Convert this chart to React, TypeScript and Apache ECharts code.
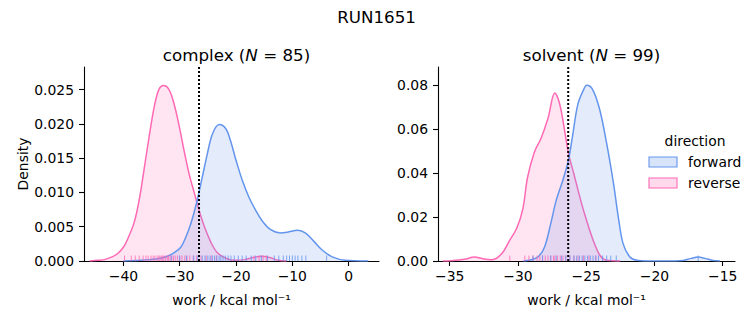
import React, { useEffect, useRef } from "react";
import * as echarts from "echarts";

// ---- data ----
const SUPTITLE = "RUN1651";
const PANEL_TITLES = ["complex ({i|N} = 85)", "solvent ({i|N} = 99)"];
const X_LABEL = "work / kcal mol\u207B\u00B9";
const Y_LABEL = "Density";
const LEGEND_TITLE = "direction";
const LEGEND_ITEMS = ["forward", "reverse"];

// complex panel
const C_X_TICKS = [-40, -30, -20, -10, 0];
const C_Y_TICKS = [0, 0.005, 0.01, 0.015, 0.02, 0.025];
const C_REV_X = [-46.0, -44.5, -43.4, -42.0, -41.0, -40.0, -39.3, -38.1, -37.2, -36.3, -35.4, -34.5, -33.7, -32.9, -31.9, -31.0, -30.1, -29.2, -28.3, -27.4, -26.6, -25.7, -24.5, -23.3, -21.5, -20.0, -18.5, -17.0, -15.5, -14.0, -12.5, -11.0];
const C_REV_Y = [0.0, 0.0001, 0.0002, 0.0006, 0.0011, 0.002, 0.0031, 0.0056, 0.0089, 0.0135, 0.0183, 0.0226, 0.0250, 0.0256, 0.0250, 0.0229, 0.0197, 0.0160, 0.0126, 0.0099, 0.0075, 0.0052, 0.0028, 0.0012, 0.0003, 0.0001, 0.0002, 0.0005, 0.0007, 0.0005, 0.0001, 0.0];
const C_FWD_X = [-40.0, -37.0, -35.3, -33.5, -32.2, -31.0, -29.8, -28.9, -28.0, -27.0, -26.0, -25.1, -24.2, -23.0, -21.8, -21.0, -20.0, -18.9, -17.7, -16.5, -15.3, -13.9, -12.2, -10.9, -9.0, -7.7, -6.2, -4.7, -2.9, -0.6, 3.5];
const C_FWD_Y = [0.0, 0.0001, 0.0002, 0.0004, 0.0007, 0.0012, 0.002, 0.0035, 0.0055, 0.0085, 0.0122, 0.0156, 0.0185, 0.0199, 0.0193, 0.0176, 0.0147, 0.0118, 0.0093, 0.0074, 0.0058, 0.0046, 0.0041, 0.0042, 0.0045, 0.0041, 0.0029, 0.0016, 0.0006, 0.0001, 0.0];
const C_REV_RUG = [-39.8, -38.6, -37.9, -37.2, -36.5, -36.0, -35.6, -35.1, -34.7, -34.4, -34.0, -33.7, -33.5, -33.2, -33.0, -32.8, -32.5, -32.2, -32.0, -31.7, -31.4, -31.1, -30.8, -30.4, -30.0, -29.6, -29.1, -28.7, -28.2, -27.6, -27.0, -26.2, -25.3, -24.4, -23.5, -16.8, -15.9, -15.2, -14.6];
const C_FWD_RUG = [-31.5, -30.0, -28.8, -27.5, -26.8, -26.0, -25.5, -25.0, -24.6, -24.2, -23.8, -23.4, -23.0, -22.7, -22.3, -21.9, -21.4, -20.9, -20.3, -19.6, -18.9, -18.2, -17.3, -16.5, -15.5, -14.4, -13.2, -12.4, -11.6, -11.0, -10.5, -10.0, -9.5, -9.0, -8.3, -7.6, -3.9];
const C_DG = -26.57;

// solvent panel
const S_X_TICKS = [-35, -30, -25, -20, -15];
const S_Y_TICKS = [0, 0.02, 0.04, 0.06, 0.08];
const S_REV_X = [-35.5, -34.9, -33.9, -33.2, -32.5, -31.9, -31.2, -30.6, -30.1, -29.65, -29.3, -28.8, -28.3, -27.8, -27.3, -26.95, -26.6, -26.3, -25.9, -25.4, -25.0, -24.5, -24.0, -23.5, -22.5];
const S_REV_Y = [0.0, 0.0001, 0.0008, 0.0018, 0.0009, 0.0006, 0.0033, 0.0095, 0.0148, 0.0235, 0.038, 0.0495, 0.056, 0.065, 0.0765, 0.0716, 0.06, 0.049, 0.0395, 0.0275, 0.019, 0.0096, 0.0026, 0.0003, 0.0];
const S_FWD_X = [-29.6, -28.9, -28.5, -28.05, -27.6, -27.2, -26.7, -26.3, -26.0, -25.6, -25.1, -24.95, -24.5, -24.0, -23.5, -23.0, -22.65, -22.3, -21.8, -21.3, -20.5, -18.5, -17.9, -17.3, -16.8, -16.3, -15.7, -15.2];
const S_FWD_Y = [0.0, 0.0008, 0.002, 0.0064, 0.017, 0.0276, 0.037, 0.046, 0.057, 0.0716, 0.0792, 0.08, 0.0777, 0.0686, 0.0534, 0.0352, 0.02, 0.0079, 0.0018, 0.0003, 0.0, 0.0, 0.0002, 0.0012, 0.0018, 0.0012, 0.0002, 0.0];
const S_REV_RUG = [-30.6, -29.5, -29.2, -28.9, -28.6, -28.4, -28.2, -28.0, -27.8, -27.6, -27.4, -27.3, -27.1, -26.9, -26.7, -26.5, -26.2, -25.9, -25.6, -25.2, -24.8, -24.3];
const S_FWD_RUG = [-28.9, -28.2, -27.6, -27.2, -26.8, -26.5, -26.2, -25.9, -25.7, -25.5, -25.3, -25.1, -24.9, -24.7, -24.5, -24.3, -24.1, -23.8, -23.5, -23.2, -22.8, -16.8];
const S_DG = -26.32;

const FONT = "DejaVu Sans";
const BLUE = "#6495ED";
const PINK = "#FF69B4";
const BLUE_FILL = "rgba(100,149,237,0.25)";
const PINK_FILL = "rgba(255,105,180,0.25)";
const BLUE_RUG = "rgba(100,149,237,0.8)";
const PINK_RUG = "rgba(255,105,180,0.8)";

const zip = (xs: number[], ys: number[]) => xs.map((x, i) => [x, ys[i]]);
const minus = (s: string) => s.replace("-", "\u2212");

const rugSeries = (i: number, xs: number[], color: string) => ({
  type: "custom", xAxisIndex: i, yAxisIndex: i, silent: true, z: 4,
  data: xs.map((x) => [x, 0]),
  renderItem: (_params: any, api: any) => {
    const p = api.coord([api.value(0), 0]);
    return { type: "line", shape: { x1: p[0], y1: p[1], x2: p[0], y2: p[1] - 5.5 }, style: { stroke: color, lineWidth: 1 } };
  },
});

export default function App() {
  const ref = useRef<HTMLDivElement>(null);
  useEffect(() => {
    if (!ref.current) return;
    const chart = echarts.init(ref.current, undefined, { renderer: "svg" });

    const panels = [
      { grid: { left: 84, top: 67, width: 295, height: 194 }, xmin: -47, xmax: 5.4, ymax: 0.0283, xt: C_X_TICKS, yt: C_Y_TICKS, yd: 3, rev: zip(C_REV_X, C_REV_Y), fwd: zip(C_FWD_X, C_FWD_Y), revRug: C_REV_RUG, fwdRug: C_FWD_RUG, dg: C_DG, title: PANEL_TITLES[0] },
      { grid: { left: 438, top: 67, width: 297, height: 194 }, xmin: -35.86, xmax: -14.1, ymax: 0.0883, xt: S_X_TICKS, yt: S_Y_TICKS, yd: 2, rev: zip(S_REV_X, S_REV_Y), fwd: zip(S_FWD_X, S_FWD_Y), revRug: S_REV_RUG, fwdRug: S_FWD_RUG, dg: S_DG, title: PANEL_TITLES[1] },
    ];

    const axisLine = { show: true, onZero: false, lineStyle: { color: "#000", width: 1.1 } };
    const labelStyle = { color: "#000", fontSize: 13.9, fontFamily: FONT };

    const xAxis = panels.map((p, i) => ({
      type: "value", gridIndex: i, min: p.xmin, max: p.xmax,
      axisLine,
      axisTick: { show: true, length: 5, customValues: p.xt, lineStyle: { color: "#000", width: 1.1 } },
      axisLabel: { ...labelStyle, margin: 8, customValues: p.xt, formatter: (v: number) => minus(String(v)) },
      splitLine: { show: false },
      name: X_LABEL, nameLocation: "middle", nameGap: 32,
      nameTextStyle: { ...labelStyle },
    }));
    const yAxis = panels.map((p, i) => ({
      type: "value", gridIndex: i, min: 0, max: p.ymax,
      axisLine,
      axisTick: { show: true, length: 5, customValues: p.yt, lineStyle: { color: "#000", width: 1.1 } },
      axisLabel: { ...labelStyle, margin: 10, customValues: p.yt, formatter: (v: number) => v.toFixed(p.yd) },
      splitLine: { show: false },
      name: i === 0 ? Y_LABEL : "", nameLocation: "middle", nameGap: 53,
      nameTextStyle: { ...labelStyle },
    }));

    const series: any[] = [];
    panels.forEach((p, i) => {
      series.push({
        type: "line", xAxisIndex: i, yAxisIndex: i, data: p.rev, showSymbol: false, smooth: 0.35,
        lineStyle: { color: PINK, width: 1.5 }, areaStyle: { color: PINK_FILL }, silent: true, z: 2,
      });
      series.push({
        type: "line", xAxisIndex: i, yAxisIndex: i, data: p.fwd, showSymbol: false, smooth: 0.35,
        lineStyle: { color: BLUE, width: 1.5 }, areaStyle: { color: BLUE_FILL }, silent: true, z: 3,
      });
      series.push(rugSeries(i, p.revRug, PINK_RUG));
      series.push(rugSeries(i, p.fwdRug, BLUE_RUG));
      series.push({
        type: "line", xAxisIndex: i, yAxisIndex: i, data: [[p.dg, 0], [p.dg, p.ymax]], showSymbol: false,
        lineStyle: { color: "#000", width: 2, type: [2, 2] }, silent: true, z: 5,
      });
    });

    const titles: any[] = [
      { text: SUPTITLE, left: "center", top: 3, textStyle: { fontSize: 16.7, fontWeight: "normal", fontFamily: FONT, color: "#000" } },
      ...panels.map((p) => ({
        text: p.title, left: p.grid.left + p.grid.width / 2, textAlign: "center", top: 41,
        textStyle: { fontSize: 16.7, fontWeight: "normal", fontFamily: FONT, color: "#000",
          rich: { i: { fontStyle: "italic", fontSize: 16.7, fontFamily: FONT, color: "#000" } } },
      })),
    ];

    const legendFont = { fontSize: 13.9, fontFamily: FONT, fill: "#000" };
    const graphic: any[] = [
      { type: "text", x: 695, y: 141, style: { text: LEGEND_TITLE, align: "center", verticalAlign: "middle", ...legendFont } },
      { type: "rect", shape: { x: 649, y: 157, width: 28, height: 10 }, style: { fill: BLUE_FILL, stroke: BLUE, lineWidth: 1.1 } },
      { type: "text", x: 688, y: 162, style: { text: LEGEND_ITEMS[0], align: "left", verticalAlign: "middle", ...legendFont } },
      { type: "rect", shape: { x: 649, y: 178, width: 28, height: 10 }, style: { fill: PINK_FILL, stroke: PINK, lineWidth: 1.1 } },
      { type: "text", x: 688, y: 183, style: { text: LEGEND_ITEMS[1], align: "left", verticalAlign: "middle", ...legendFont } },
    ];

    chart.setOption({
      animation: false,
      backgroundColor: "#fff",
      textStyle: { fontFamily: FONT },
      title: titles,
      grid: panels.map((p) => ({ ...p.grid, containLabel: false })),
      xAxis, yAxis, series, graphic,
    });
    return () => chart.dispose();
  }, []);
  return <div ref={ref} style={{ width: 753, height: 325, position: "absolute", left: 0, top: 0 }} />;
}
